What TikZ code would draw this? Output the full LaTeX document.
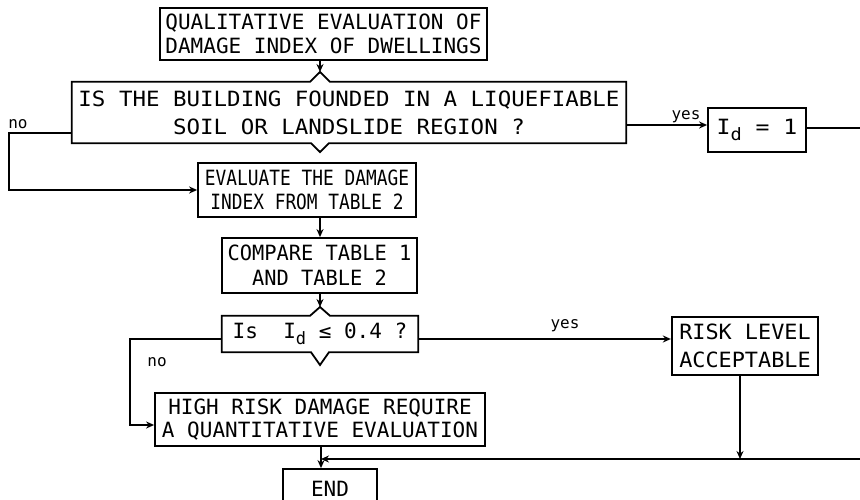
\documentclass[tikz,border=0pt]{standalone}
\usepackage{fontspec}
\newfontfamily\pf{DejaVu Sans Mono}
\usetikzlibrary{arrows.meta,calc}
\newcommand\tff[2]{\pf\addfontfeatures{FakeStretch=#1}\fontsize{21}{#2}\selectfont}
\begin{document}
\begin{tikzpicture}[x=1pt,y=-1pt,
  box/.style={draw, line width=1.8pt, inner sep=0pt, align=center},
  plain/.style={inner sep=0pt, align=center},
  line/.style={line width=1.8pt},
  arr/.style={line width=1.8pt, -{Stealth[length=8pt,width=7pt]}},
  lbl/.style={font=\pf\fontsize{16}{16}\selectfont, inner sep=0pt}]
\useasboundingbox (0,0) rectangle (860,500);
\clip (0,0) rectangle (860,500);

% boxes
\node[box, minimum width=327pt, minimum height=52pt, font={\tff{1.0}{24}}] (b1) at (323.5,34)
  {QUALITATIVE EVALUATION OF\\DAMAGE INDEX OF DWELLINGS};
\node[plain, minimum width=554pt, minimum height=61pt, font={\tff{1.07}{28}}] (d1) at (349,112.5)
  {IS THE BUILDING FOUNDED IN A LIQUEFIABLE\\SOIL OR LANDSLIDE REGION ?};
\node[box, minimum width=98pt, minimum height=44pt, font={\tff{1.1}{24}}] (Id) at (757,130)
  {I{\fontsize{17}{17}\selectfont\raisebox{-6pt}{d}} = 1};
\node[box, minimum width=218pt, minimum height=54pt, font={\tff{0.85}{24}}] (eval) at (307,190)
  {EVALUATE THE DAMAGE\\INDEX FROM TABLE 2};
\node[box, minimum width=195pt, minimum height=55pt, font={\tff{0.97}{25}}] (comp) at (319.5,265.5)
  {COMPARE TABLE 1\\AND TABLE 2};
\node[plain, minimum width=196pt, minimum height=36pt, font={\tff{1.0}{24}}] (d2) at (320,334)
  {Is\ \ I{\fontsize{17}{17}\selectfont\raisebox{-6pt}{d}} ≤ 0.4 ?};
\node[box, line width=2.3pt, minimum width=146pt, minimum height=58pt, font={\tff{1.04}{28}}] (risk) at (745,346)
  {RISK LEVEL\\ACCEPTABLE};
\node[box, minimum width=330pt, minimum height=53pt, font={\tff{1.0}{23}}] (high) at (320,419.5)
  {HIGH RISK DAMAGE REQUIRE\\A QUANTITATIVE EVALUATION};
\node[box, minimum width=94pt, minimum height=40pt, font={\tff{1.0}{24}}] (END) at (330,489) {END};

% labels
\node[lbl] (no1) at (18,124) {no};
\node[lbl] (yes1) at (686,117) {yes};
\node[lbl] (yes2) at (565,326) {yes};
\node[lbl] (no2) at (157,362) {no};

% decision outlines
\coordinate (d1top) at (320,72);
\coordinate (d1bot) at (320,152);
\draw[line, line join=miter] (d1.north west) -- ($(d1top |- d1.north)+(-10,0)$) -- (d1top)
  -- ($(d1top |- d1.north)+(10,0)$) -- (d1.north east) -- (d1.south east)
  -- ($(d1bot |- d1.south)+(9,0)$) -- (d1bot) -- ($(d1bot |- d1.south)+(-9,0)$)
  -- (d1.south west) -- cycle;
\coordinate (d2top) at (320,307);
\coordinate (d2bot) at (320,365);
\draw[line, line join=miter] (d2.north west) -- ($(d2top |- d2.north)+(-10,0)$) -- (d2top)
  -- ($(d2top |- d2.north)+(10,0)$) -- (d2.north east) -- (d2.south east)
  -- ($(d2bot |- d2.south)+(9,0)$) -- (d2bot) -- ($(d2bot |- d2.south)+(-9,0)$)
  -- (d2.south west) -- cycle;

% helper coordinates
\coordinate (ny1) at (0,133);
\coordinate (nl1) at (9,133);
\coordinate (nl2) at (9,190);
\coordinate (yy1) at (0,125);
\coordinate (re1) at (860,128);
\coordinate (yy2) at (0,339);
\coordinate (nb1) at (130,339);
\coordinate (nb2) at (130,425);
\coordinate (j1) at (321,459);
\coordinate (j2) at (740,459);
\coordinate (re2) at (860,459);

% connectors
\draw[arr] (b1.south -| d1top) -- (d1top);
\draw[arr] (d1.west |- ny1) -- (nl1) -- (nl2) -- (eval.west |- nl2);
\draw[arr] (d1.east |- yy1) -- (Id.west |- yy1);
\draw[line] (Id.east |- re1) -- (re1);
\draw[arr] (eval.south -| d1top) -- (comp.north -| d1top);
\draw[arr] (comp.south -| d2top) -- (d2top);
\draw[arr] (d2.east |- yy2) -- (risk.west |- yy2);
\draw[arr] (d2.west |- yy2) -- (nb1) -- (nb2) -- (high.west |- nb2);
\draw[arr] (risk.south -| j2) -- (j2);
\draw[arr] (re2) -- (j1);
\draw[line] (high.south -| j1) -- (j1);
\draw[arr] (j1) -- (END.north -| j1);
\end{tikzpicture}
\end{document}
